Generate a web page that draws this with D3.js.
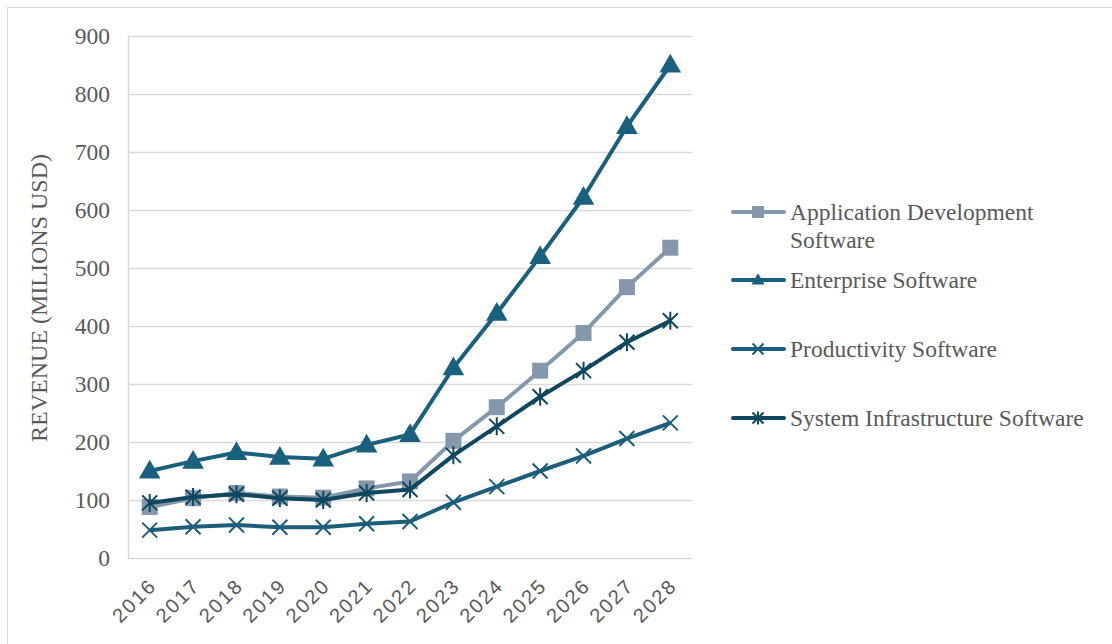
<!DOCTYPE html>
<html>
<head>
<meta charset="utf-8">
<script src="https://cdn.jsdelivr.net/npm/d3@7/dist/d3.min.js"></script>
<style>
  body { margin: 0; background: #fff; }
  .serif { font-family: "Liberation Serif", "Times New Roman", serif; }
  .sans { font-family: "Liberation Sans", Arial, sans-serif; }
</style>
</head>
<body>
<script>
// data
const years = ["2016","2017","2018","2019","2020","2021","2022","2023","2024","2025","2026","2027","2028"];
const appDev = [88, 103, 112, 106, 104, 120, 132, 202, 260, 323, 388, 467, 535];
const enterprise = [150, 167, 182, 174, 171, 195, 213, 328, 422, 520, 622, 744, 850];
const productivity = [48, 54, 57, 53, 53, 59, 63, 96, 123, 150, 176, 206, 233];
const sysInfra = [95, 105, 110, 103, 100, 112, 118, 177, 227, 278, 323, 372, 409];
const yTicks = [0, 100, 200, 300, 400, 500, 600, 700, 800, 900];

const series = [
  { name: ["Application Development", "Software"], values: appDev, color: "#8598ab", marker: "square" },
  { name: ["Enterprise Software"], values: enterprise, color: "#19607f", marker: "triangle" },
  { name: ["Productivity Software"], values: productivity, color: "#1b5d7a", marker: "x" },
  { name: ["System Infrastructure Software"], values: sysInfra, color: "#0f4760", marker: "star" }
];

const W = 1112, H = 644;

const svg = d3.select("body").append("svg")
  .attr("width", W).attr("height", H);

// outer border
svg.append("rect")
  .attr("x", 7.5).attr("y", 7.5)
  .attr("width", W + 10).attr("height", H + 10)
  .attr("fill", "none").attr("stroke", "#d9d9d9");

const x = d3.scaleBand().domain(years).range([128, 692]);
const y = d3.scaleLinear().domain([0, 900]).range([558, 36]);
const cx = d => x(d) + x.bandwidth() / 2;

// gridlines
svg.append("g")
  .selectAll("line").data(yTicks).join("line")
  .attr("x1", 128).attr("x2", 692)
  .attr("y1", d => y(d) + 0.5).attr("y2", d => y(d) + 0.5)
  .attr("stroke", "#d9d9d9").attr("stroke-width", 1.5);

// left axis line
svg.append("line")
  .attr("x1", 128.5).attr("x2", 128.5).attr("y1", 36).attr("y2", 559)
  .attr("stroke", "#d9d9d9").attr("stroke-width", 1.5);

// y axis labels
const yaxis = d3.axisLeft(y).tickValues(yTicks).tickSize(0).tickPadding(18);
const gy = svg.append("g").attr("transform", "translate(128,0)").call(yaxis);
gy.select(".domain").remove();
gy.attr("font-family", null).attr("font-size", null);
gy.selectAll("text").attr("class", "serif")
  .style("font-size", "23.5px").attr("fill", "#595959");

// x axis labels
const xaxis = d3.axisBottom(x).tickSize(0).tickPadding(0);
const gx = svg.append("g").attr("transform", "translate(0,558)").call(xaxis);
gx.select(".domain").remove();
gx.attr("font-family", null).attr("font-size", null);
gx.selectAll("text")
  .attr("class", "sans")
  .style("font-size", "20px")
  .attr("fill", "#595959")
  .attr("letter-spacing", 2)
  .attr("text-anchor", "end")
  .attr("dy", null)
  .attr("transform", "translate(8,29) rotate(-45)");

// axis title
svg.append("text")
  .attr("class", "serif")
  .attr("transform", "translate(47,298) rotate(-90)")
  .attr("text-anchor", "middle")
  .style("font-size", "24px").attr("fill", "#595959")
  .text("REVENUE (MILIONS USD)");

function drawMarker(g, type, color, size) {
  const s = size;
  if (type === "square") {
    g.append("rect").attr("x", -s / 2).attr("y", -s / 2)
      .attr("width", s).attr("height", s).attr("fill", color);
  } else if (type === "triangle") {
    g.append("path")
      .attr("d", `M0,${-s * 0.62}L${s * 0.6},${s * 0.42}L${-s * 0.6},${s * 0.42}Z`)
      .attr("fill", color);
  } else if (type === "x") {
    const h = s / 2;
    g.append("path").attr("d", `M${-h},${-h}L${h},${h}M${-h},${h}L${h},${-h}`)
      .attr("stroke", color).attr("stroke-width", 2).attr("fill", "none");
  } else if (type === "star") {
    const h = s / 2;
    g.append("path").attr("d", `M${-h},${-h}L${h},${h}M${-h},${h}L${h},${-h}M0,${-h * 1.2}L0,${h * 1.2}`)
      .attr("stroke", color).attr("stroke-width", 2).attr("fill", "none");
  }
}

const line = d3.line().x((d, i) => cx(years[i])).y(d => y(d));

// draw order: productivity, enterprise, app dev, sys infra on top
const order = [2, 1, 0, 3];
order.forEach(k => {
  const s = series[k];
  svg.append("path")
    .datum(s.values)
    .attr("d", line)
    .attr("fill", "none")
    .attr("stroke", s.color)
    .attr("stroke-width", 4)
    .attr("stroke-linejoin", "round");
  s.values.forEach((v, i) => {
    const g = svg.append("g").attr("transform", `translate(${cx(years[i])},${y(v)})`);
    drawMarker(g, s.marker, s.color, s.marker === "square" ? 16 : (s.marker === "triangle" ? 18 : 15));
  });
});

// legend
const legendY = [212, 280, 349, 418];
series.forEach((s, k) => {
  const ly = legendY[k];
  svg.append("line")
    .attr("x1", 733).attr("x2", 784).attr("y1", ly).attr("y2", ly)
    .attr("stroke", s.color).attr("stroke-width", 4).attr("stroke-linecap", "round");
  const g = svg.append("g").attr("transform", `translate(758,${ly})`);
  drawMarker(g, s.marker, s.color, s.marker === "square" ? 12 : 11);
  const t = svg.append("text")
    .attr("class", "serif")
    .attr("x", 790).attr("y", ly + 8)
    .style("font-size", "23.5px").attr("fill", "#595959");
  s.name.forEach((n, j) => {
    t.append("tspan").attr("x", 790).attr("dy", j === 0 ? 0 : 28).text(n);
  });
});
</script>
</body>
</html>
